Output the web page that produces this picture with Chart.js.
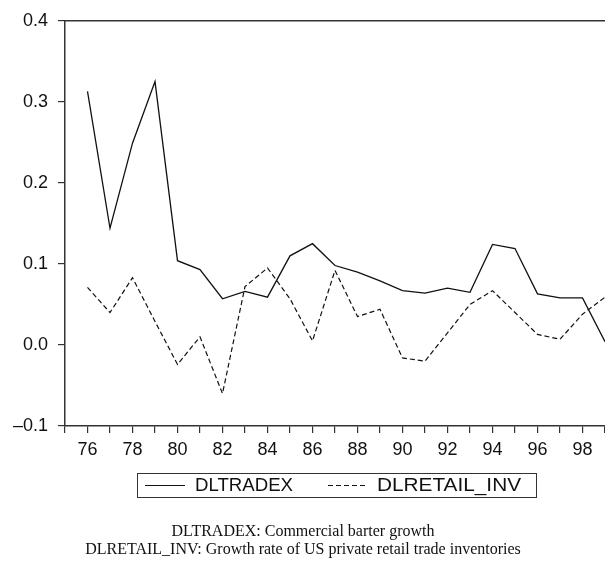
<!DOCTYPE html>
<html>
<head>
<meta charset="utf-8">
<script src="https://cdn.jsdelivr.net/npm/chart.js@4"></script>
<style>
  html, body { margin: 0; padding: 0; background: #fff; }
  #wrap { width: 605px; height: 562px; }
</style>
</head>
<body>
<div id="wrap"><canvas id="tradeChart" width="605" height="562"></canvas></div>
<script>
// years 1976..1999
const years = [76, 77, 78, 79, 80, 81, 82, 83, 84, 85, 86, 87, 88, 89, 90, 91, 92, 93, 94, 95, 96, 97, 98, 99];
const dltradex = [0.313, 0.144, 0.249, 0.325, 0.104, 0.093, 0.057, 0.066, 0.059, 0.110, 0.125, 0.098, 0.090, 0.079, 0.067, 0.064, 0.070, 0.065, 0.124, 0.119, 0.063, 0.058, 0.058, 0.004];
const dlretailInv = [0.071, 0.040, 0.083, 0.029, -0.024, 0.010, -0.060, 0.072, 0.095, 0.057, 0.005, 0.092, 0.035, 0.044, -0.016, -0.020, 0.015, 0.050, 0.067, 0.040, 0.013, 0.007, 0.038, 0.059];
const yTicks = [-0.1, 0.0, 0.1, 0.2, 0.3, 0.4];
const captions = [
    "DLTRADEX: Commercial barter growth",
    "DLRETAIL_INV: Growth rate of US private retail trade inventories"
];

const axisColor = "#333";
const sansFont = "'Liberation Sans', Arial, sans-serif";

const framePlugin = {
    id: "frame",
    afterDraw(chart) {
        const ctx = chart.ctx;
        const area = chart.chartArea;
        ctx.save();
        // top border of the plot
        ctx.strokeStyle = axisColor;
        ctx.lineWidth = 1.5;
        ctx.beginPath();
        ctx.moveTo(area.left, area.top);
        ctx.lineTo(area.right, area.top);
        ctx.stroke();

        // legend box
        const bx = 137, by = 473, bw = 399, bh = 24;
        ctx.lineWidth = 1;
        ctx.strokeRect(bx + 0.5, by + 0.5, bw, bh);
        const items = [
            { x: 145, tx: 195, w: 98 },
            { x: 328, tx: 377, w: 144 }
        ];
        ctx.font = "18.5px " + sansFont;
        ctx.textBaseline = "middle";
        ctx.fillStyle = "#111";
        chart.data.datasets.forEach((ds, i) => {
            const it = items[i];
            ctx.strokeStyle = ds.borderColor;
            ctx.lineWidth = 1;
            ctx.setLineDash(ds.borderDash || []);
            ctx.beginPath();
            ctx.moveTo(it.x, by + bh / 2 + 0.5);
            ctx.lineTo(it.x + 40, by + bh / 2 + 0.5);
            ctx.stroke();
            ctx.setLineDash([]);
            // stretch the label to the width it has in the original legend
            const sx = it.w / ctx.measureText(ds.label).width;
            ctx.save();
            ctx.translate(it.tx, by + bh / 2 + 1);
            ctx.scale(sx, 1);
            ctx.fillText(ds.label, 0, 0);
            ctx.restore();
        });

        // captions
        ctx.font = "16px 'Liberation Serif', 'Times New Roman', serif";
        ctx.textAlign = "center";
        ctx.fillText(captions[0], 303, 532);
        ctx.fillText(captions[1], 303, 550);
        ctx.restore();
    }
};

const ctx = document.getElementById("tradeChart").getContext("2d");
new Chart(ctx, {
    type: "line",
    data: {
        labels: years,
        datasets: [{
            label: "DLTRADEX",
            data: years.map((y, i) => ({ x: y, y: dltradex[i] })),
            borderColor: "#111",
            borderWidth: 1.3,
            pointRadius: 0,
            tension: 0,
            fill: false
        }, {
            label: "DLRETAIL_INV",
            data: years.map((y, i) => ({ x: y, y: dlretailInv[i] })),
            borderColor: "#111",
            borderWidth: 1.2,
            borderDash: [5, 3],
            pointRadius: 0,
            tension: 0,
            fill: false
        }]
    },
    options: {
        responsive: false,
        animation: false,
        layout: { padding: { top: 19, right: 0, left: 0, bottom: 0 } },
        plugins: {
            legend: { display: false },
            tooltip: { enabled: false }
        },
        scales: {
            x: {
                type: "linear",
                min: 75,
                max: 99,
                afterFit(scale) {
                    scale.height = 136;
                    scale.paddingLeft = 0;
                    scale.paddingRight = 0;
                },
                border: { color: axisColor, width: 1.5 },
                grid: { drawOnChartArea: false, drawTicks: true, tickLength: 7, color: axisColor, lineWidth: 1.2 },
                ticks: {
                    stepSize: 1,
                    autoSkip: false,
                    maxRotation: 0,
                    padding: 6,
                    color: "#111",
                    font: { family: sansFont, size: 18 },
                    callback: v => (v % 2 === 0 ? String(v) : "")
                }
            },
            y: {
                min: -0.1,
                max: 0.4,
                afterFit(scale) { scale.width = 65; },
                afterBuildTicks(scale) { scale.ticks = yTicks.map(v => ({ value: v })); },
                border: { color: axisColor, width: 1.5 },
                grid: { drawOnChartArea: false, drawTicks: true, tickLength: 7, color: axisColor, lineWidth: 1.2 },
                ticks: {
                    padding: 10,
                    color: "#111",
                    font: { family: sansFont, size: 18 },
                    callback: v => (v < 0 ? "\u2013" + Math.abs(v).toFixed(1) : v.toFixed(1))
                }
            }
        }
    },
    plugins: [framePlugin]
});
</script>
</body>
</html>
